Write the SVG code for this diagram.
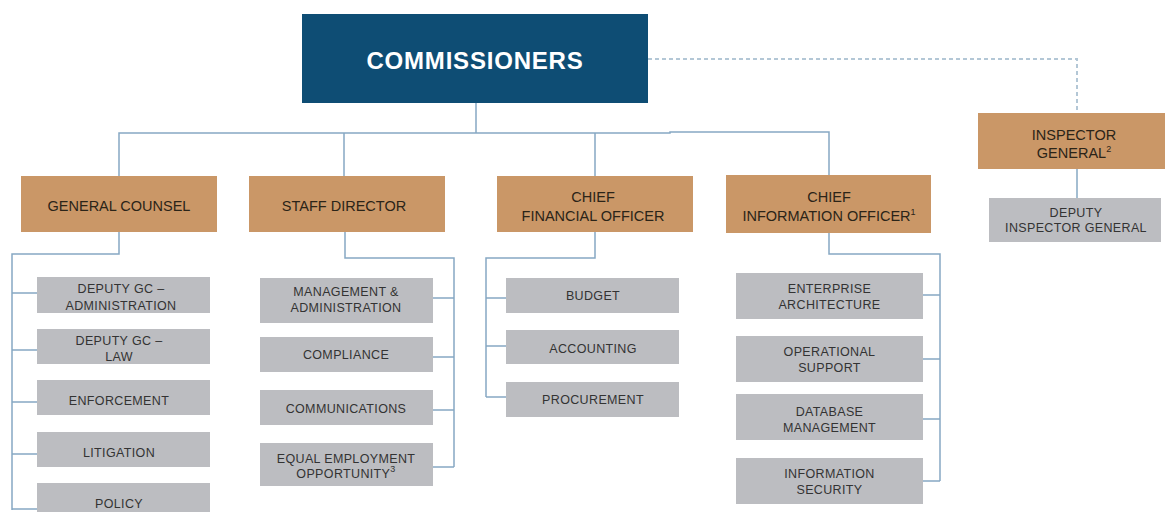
<svg xmlns="http://www.w3.org/2000/svg" width="1165" height="512" viewBox="0 0 1165 512">
<style>
.ln{fill:none;stroke:#86a8c3;stroke-width:1.5}
.dash{fill:none;stroke:#b3c7d6;stroke-width:2;stroke-dasharray:4 3}
.top{fill:#ca9767}
.sub{fill:#bcbdc1}
.tt{font-family:"Liberation Sans",Arial,sans-serif;font-size:14.5px;fill:#2b2418;text-anchor:middle}
.st{font-family:"Liberation Sans",Arial,sans-serif;font-size:12.5px;letter-spacing:0.35px;fill:#333333;text-anchor:middle}
.sup{font-size:9px}
</style>
<rect width="1165" height="512" fill="#ffffff"/>
<g id="connectors">
<path class="dash" d="M648,59 H1077 V113"/>
<path class="ln" d="M476,103 V133 M119,176 V133 H670 V132 H829 V175 M344,133 V176 M595,133 V176"/>
<path class="ln" d="M1077,169 V198"/>
<path class="ln" d="M119,232 V254 H12 V510 M12,293 H37 M12,350 H37 M12,402 H37 M12,454 H37 M12,509 H37"/>
<path class="ln" d="M345,232 V258 H454 V467 M433,298 H454 M433,357 H454 M433,410 H454 M433,467 H454"/>
<path class="ln" d="M595,232 V258 H486 V397 M486,298 H506 M486,346 H506 M486,397 H506"/>
<path class="ln" d="M829,233 V254 H940 V481 M923,295 H940 M923,359 H940 M923,419 H940 M923,481 H940"/>
</g>
<g id="commissioners">
<rect x="302" y="14" width="346" height="89" fill="#0e4d74"/>
<text x="475" y="69" font-family="Liberation Sans,Arial,sans-serif" font-size="24" font-weight="bold" letter-spacing="0.8" fill="#ffffff" text-anchor="middle">COMMISSIONERS</text>
</g>
<g id="general-counsel">
<rect class="top" x="21" y="176" width="196" height="56"/>
<text class="tt" x="119" y="211">GENERAL COUNSEL</text>
</g>
<g id="staff-director">
<rect class="top" x="249" y="176" width="196" height="56"/>
<text class="tt" x="344" y="211">STAFF DIRECTOR</text>
</g>
<g id="cfo">
<rect class="top" x="497" y="176" width="196" height="56"/>
<text class="tt" x="593" y="201.5">CHIEF</text>
<text class="tt" x="593" y="221">FINANCIAL OFFICER</text>
</g>
<g id="cio">
<rect class="top" x="726" y="175" width="205" height="58"/>
<text class="tt" x="829" y="201.5">CHIEF</text>
<text class="tt" x="829" y="220.5">INFORMATION OFFICER<tspan class="sup" dy="-6">1</tspan></text>
</g>
<g id="inspector-general">
<rect class="top" x="978" y="113" width="187" height="56"/>
<text class="tt" x="1074" y="140">INSPECTOR</text>
<text class="tt" x="1074" y="158">GENERAL<tspan class="sup" dy="-6">2</tspan></text>
</g>
<g id="deputy-ig">
<rect class="sub" x="989" y="198" width="172" height="44"/>
<text class="st" x="1076" y="216.5">DEPUTY</text>
<text class="st" x="1076" y="232">INSPECTOR GENERAL</text>
</g>
<g id="deputy-gc-admin">
<rect class="sub" x="37" y="277" width="173" height="36"/>
<text class="st" x="121" y="293">DEPUTY GC –</text>
<text class="st" x="121" y="309.5">ADMINISTRATION</text>
</g>
<g id="deputy-gc-law">
<rect class="sub" x="37" y="329" width="173" height="35"/>
<text class="st" x="119" y="345">DEPUTY GC –</text>
<text class="st" x="119" y="361">LAW</text>
</g>
<g id="enforcement">
<rect class="sub" x="37" y="380" width="173" height="35"/>
<text class="st" x="119" y="405">ENFORCEMENT</text>
</g>
<g id="litigation">
<rect class="sub" x="37" y="432" width="173" height="35"/>
<text class="st" x="119" y="456.5">LITIGATION</text>
</g>
<g id="policy">
<rect class="sub" x="37" y="483" width="173" height="35"/>
<text class="st" x="119" y="508">POLICY</text>
</g>
<g id="mgmt-admin">
<rect class="sub" x="260" y="278" width="173" height="45"/>
<text class="st" x="346" y="296">MANAGEMENT &amp;</text>
<text class="st" x="346" y="311.5">ADMINISTRATION</text>
</g>
<g id="compliance">
<rect class="sub" x="260" y="337" width="173" height="35"/>
<text class="st" x="346" y="359">COMPLIANCE</text>
</g>
<g id="communications">
<rect class="sub" x="260" y="390" width="173" height="35"/>
<text class="st" x="346" y="413">COMMUNICATIONS</text>
</g>
<g id="eeo">
<rect class="sub" x="260" y="443" width="173" height="43"/>
<text class="st" x="346" y="462.5">EQUAL EMPLOYMENT</text>
<text class="st" x="346" y="478">OPPORTUNITY<tspan class="sup" dy="-6">3</tspan></text>
</g>
<g id="budget">
<rect class="sub" x="506" y="278" width="173" height="35"/>
<text class="st" x="593" y="300">BUDGET</text>
</g>
<g id="accounting">
<rect class="sub" x="506" y="330" width="173" height="34"/>
<text class="st" x="593" y="353">ACCOUNTING</text>
</g>
<g id="procurement">
<rect class="sub" x="506" y="382" width="173" height="35"/>
<text class="st" x="593" y="404">PROCUREMENT</text>
</g>
<g id="enterprise-architecture">
<rect class="sub" x="736" y="273" width="187" height="46"/>
<text class="st" x="829.5" y="293">ENTERPRISE</text>
<text class="st" x="829.5" y="309">ARCHITECTURE</text>
</g>
<g id="operational-support">
<rect class="sub" x="736" y="336" width="187" height="46"/>
<text class="st" x="829.5" y="355.5">OPERATIONAL</text>
<text class="st" x="829.5" y="371.5">SUPPORT</text>
</g>
<g id="database-management">
<rect class="sub" x="736" y="394" width="187" height="46"/>
<text class="st" x="829.5" y="415.5">DATABASE</text>
<text class="st" x="829.5" y="431.5">MANAGEMENT</text>
</g>
<g id="information-security">
<rect class="sub" x="736" y="458" width="187" height="46"/>
<text class="st" x="829.5" y="478">INFORMATION</text>
<text class="st" x="829.5" y="494">SECURITY</text>
</g>
</svg>
